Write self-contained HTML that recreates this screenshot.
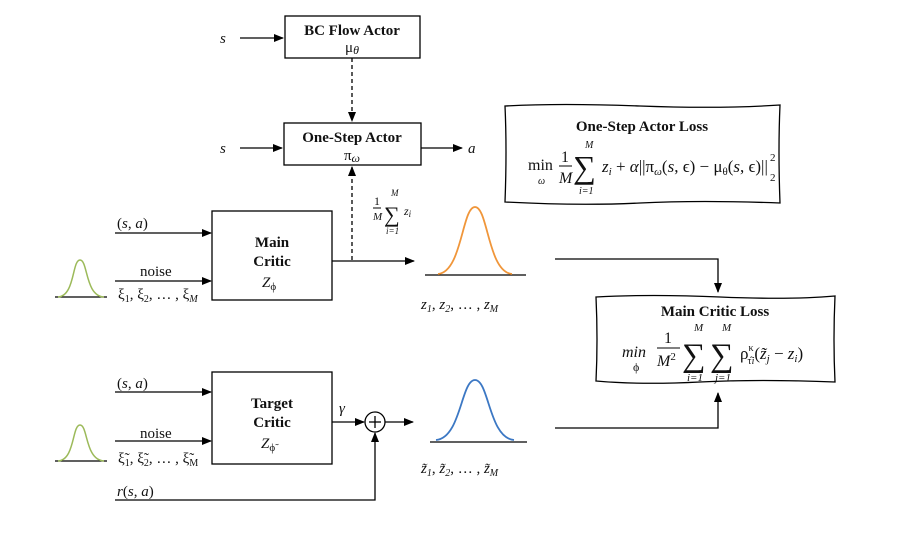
<!DOCTYPE html>
<html><head><style>
body{margin:0;background:#fff}
svg{display:block;font-family:"Liberation Serif",serif;font-size:15px}
text{fill:#111}
.b{font-weight:bold}
.i{font-style:italic}
</style></head><body>
<svg width="913" height="546" viewBox="0 0 913 546" xmlns="http://www.w3.org/2000/svg">
<defs><marker id="ar" markerWidth="10" markerHeight="8" refX="9" refY="4" orient="auto" markerUnits="userSpaceOnUse"><path d="M0,0 L10,4 L0,8 z" fill="#000"/></marker></defs>
<g stroke="#000" stroke-width="1.3" fill="none">
<rect x="285" y="16" width="135" height="42"/>
<rect x="284" y="123" width="137" height="42"/>
<rect x="212" y="211" width="120" height="89"/>
<rect x="212" y="372" width="120" height="92"/>
<line x1="240" y1="38" x2="283" y2="38" marker-end="url(#ar)"/>
<line x1="352" y1="58" x2="352" y2="121" stroke-dasharray="4,3" marker-end="url(#ar)"/>
<line x1="240" y1="148" x2="282" y2="148" marker-end="url(#ar)"/>
<line x1="421" y1="148" x2="462" y2="148" marker-end="url(#ar)"/>
<line x1="352" y1="260" x2="352" y2="167" stroke-dasharray="4,3" marker-end="url(#ar)"/>
<line x1="115" y1="233" x2="211" y2="233" marker-end="url(#ar)"/>
<line x1="115" y1="281" x2="211" y2="281" marker-end="url(#ar)"/>
<line x1="332" y1="261" x2="414" y2="261" marker-end="url(#ar)"/>
<line x1="55" y1="297" x2="107" y2="297"/>
<line x1="425" y1="275" x2="526" y2="275"/>
<polyline points="555,259 718,259 718,292" marker-end="url(#ar)"/>
<line x1="115" y1="392" x2="211" y2="392" marker-end="url(#ar)"/>
<line x1="115" y1="441" x2="211" y2="441" marker-end="url(#ar)"/>
<line x1="55" y1="461" x2="107" y2="461"/>
<line x1="332" y1="422" x2="364" y2="422" marker-end="url(#ar)"/>
<circle cx="375" cy="422" r="10"/>
<line x1="369" y1="422" x2="381" y2="422"/><line x1="375" y1="416" x2="375" y2="428"/>
<line x1="385" y1="422" x2="413" y2="422" marker-end="url(#ar)"/>
<polyline points="115,500 375,500 375,433" marker-end="url(#ar)"/>
<line x1="430" y1="442" x2="527" y2="442"/>
<polyline points="555,428 718,428 718,393" marker-end="url(#ar)"/>
<path d="M505,106 Q560,103 640,106 T780,105 Q778,150 780,203 Q700,200 640,203 T505,202 Q507,150 505,106 z"/>
<path d="M596,297 Q650,294 720,297 T835,296 Q833,340 835,382 Q760,379 700,382 T596,381 Q598,340 596,297 z"/>
</g>
<path d="M58,297 C75,296 72,260 80,260 C88,260 85,296 104,297" stroke="#9cba5a" stroke-width="1.5" fill="none"/>
<path d="M58,461 C75,460 72,425 80,425 C88,425 85,460 104,461" stroke="#9cba5a" stroke-width="1.5" fill="none"/>
<path d="M438,274 C462,272 462,207 475,207 C488,207 488,272 512,274" stroke="#f0963a" stroke-width="1.8" fill="none"/>
<path d="M436,440 C461,438 461,380 475,380 C489,380 489,438 514,440" stroke="#3c78c4" stroke-width="1.8" fill="none"/>
<text x="220" y="43" class="i">s</text>
<text x="352" y="35" class="b" text-anchor="middle">BC Flow Actor</text>
<text x="352" y="52" text-anchor="middle">μ<tspan class="i" font-size="12" dy="2">θ</tspan></text>
<text x="220" y="153" class="i">s</text>
<text x="352" y="142" class="b" text-anchor="middle">One-Step Actor</text>
<text x="352" y="160" text-anchor="middle">π<tspan class="i" font-size="12" dy="2">ω</tspan></text>
<text x="468" y="153" class="i">a</text>
<text x="374" y="205" font-size="12">1</text><line x1="373" y1="208" x2="381" y2="208" stroke="#000"/>
<text x="373" y="220" font-size="11" class="i">M</text>
<text x="384" y="222" font-size="22">∑</text>
<text x="391" y="196" font-size="9" class="i">M</text>
<text x="386" y="234" font-size="9" class="i">i=1</text>
<text x="404" y="215" font-size="12" class="i">z<tspan font-size="9" dy="2">i</tspan></text>
<text x="117" y="228">(<tspan class="i">s</tspan>, <tspan class="i">a</tspan>)</text>
<text x="140" y="276">noise</text>
<text x="118" y="299">ξ<tspan font-size="10" dy="3">1</tspan><tspan dy="-3">, ξ</tspan><tspan font-size="10" dy="3">2</tspan><tspan dy="-3">, … , ξ</tspan><tspan font-size="10" dy="3" class="i">M</tspan></text>
<text x="272" y="247" class="b" text-anchor="middle">Main</text>
<text x="272" y="266" class="b" text-anchor="middle">Critic</text>
<text x="262" y="287" class="i">Z<tspan font-size="11" dy="3" font-style="normal">ϕ</tspan></text>
<text x="421" y="309" class="i">z<tspan font-size="10" dy="3">1</tspan><tspan dy="-3" font-style="normal">, </tspan>z<tspan font-size="10" dy="3">2</tspan><tspan dy="-3" font-style="normal">, … , </tspan>z<tspan font-size="10" dy="3">M</tspan></text>
<text x="642" y="131" class="b" text-anchor="middle">One-Step Actor Loss</text>
<text x="528" y="170" font-size="16">min</text><text x="538" y="184" font-size="10" class="i">ω</text>
<text x="561" y="162" font-size="16">1</text><line x1="559" y1="166" x2="572" y2="166" stroke="#000"/>
<text x="559" y="183" class="i" font-size="16">M</text>
<text x="573" y="178" font-size="32">∑</text>
<text x="585" y="148" font-size="10" class="i">M</text>
<text x="579" y="194" font-size="10" class="i">i=1</text>
<text x="602" y="172" class="i" font-size="17">z<tspan font-size="11" dy="3">i</tspan><tspan dy="-3" font-style="normal"> + </tspan>α<tspan font-style="normal">||π</tspan><tspan font-size="11" dy="3">ω</tspan><tspan dy="-3" font-style="normal">(</tspan>s<tspan font-style="normal">, ϵ) − μ</tspan><tspan font-size="11" dy="3" font-style="normal">θ</tspan><tspan dy="-3" font-style="normal">(</tspan>s<tspan font-style="normal">, ϵ)||</tspan></text>
<text x="770" y="161" font-size="11">2</text><text x="770" y="181" font-size="11">2</text>
<text x="715" y="316" class="b" text-anchor="middle">Main Critic Loss</text>
<text x="622" y="357" class="i" font-size="16">min</text><text x="633" y="371" font-size="12">ϕ</text>
<text x="664" y="343" font-size="16">1</text><line x1="657" y1="348" x2="680" y2="348" stroke="#000"/>
<text x="657" y="366" class="i" font-size="16">M<tspan font-size="11" dy="-6" font-style="normal">2</tspan></text>
<text x="682" y="366" font-size="33">∑</text>
<text x="694" y="331" font-size="11" class="i">M</text>
<text x="687" y="381" font-size="11" class="i">i=1</text>
<text x="710" y="366" font-size="33">∑</text>
<text x="722" y="331" font-size="11" class="i">M</text>
<text x="715" y="381" font-size="11" class="i">j=1</text>
<text x="740" y="359" font-size="17">ρ<tspan font-size="10" dy="-8">κ</tspan><tspan font-size="10" dx="-6" dy="13">τ̂</tspan><tspan font-size="10" class="i">i</tspan><tspan dy="-5">(</tspan><tspan class="i">z̃</tspan><tspan class="i" font-size="11" dy="3">j</tspan><tspan dy="-3"> − </tspan><tspan class="i">z</tspan><tspan class="i" font-size="11" dy="3">i</tspan><tspan dy="-3">)</tspan></text>
<text x="117" y="388">(<tspan class="i">s</tspan>, <tspan class="i">a</tspan>)</text>
<text x="140" y="438">noise</text>
<text x="118" y="463">ξ̃<tspan font-size="10" dy="3">1</tspan><tspan dy="-3">, ξ̃</tspan><tspan font-size="10" dy="3">2</tspan><tspan dy="-3">, … , ξ̃</tspan><tspan font-size="10" dy="3">M</tspan></text>
<text x="272" y="408" class="b" text-anchor="middle">Target</text>
<text x="272" y="427" class="b" text-anchor="middle">Critic</text>
<text x="261" y="448" class="i">Z<tspan font-size="11" dy="3" font-style="normal">ϕ̃</tspan></text>
<text x="339" y="413" class="i">γ</text>
<text x="421" y="473" class="i">z̃<tspan font-size="10" dy="3">1</tspan><tspan dy="-3" font-style="normal">, </tspan>z̃<tspan font-size="10" dy="3">2</tspan><tspan dy="-3" font-style="normal">, … , </tspan>z̃<tspan font-size="10" dy="3">M</tspan></text>
<text x="117" y="496"><tspan class="i">r</tspan>(<tspan class="i">s</tspan>, <tspan class="i">a</tspan>)</text>
</svg>
</body></html>
